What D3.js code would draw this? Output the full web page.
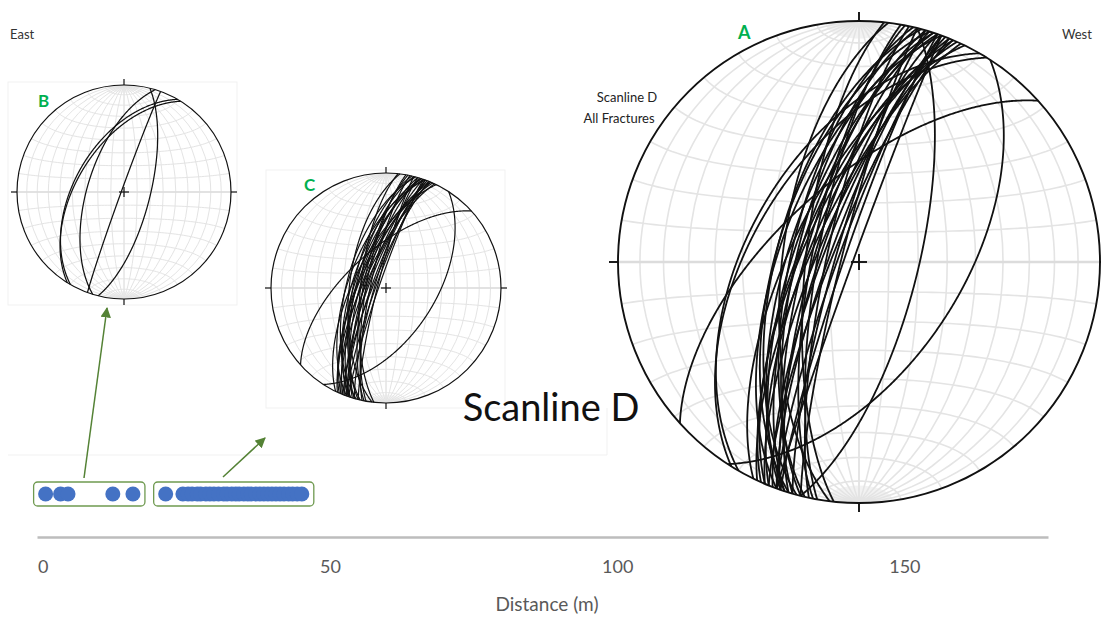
<!DOCTYPE html>
<html><head><meta charset="utf-8">
<script src="https://cdn.jsdelivr.net/npm/d3@7"></script>
<style>
html,body{margin:0;padding:0;background:#fff;}
text{font-family:Lato,"Open Sans",sans-serif;}
</style></head>
<body><svg id="c" width="1101" height="617"></svg>
<script>
// ---- data ----
// Scanline D, group B (east end): positions along scanline (m), dip direction, dip
const posB    = [0.5, 3.1, 4.4, 12.2, 15.7];
const dipDirB = [104, 290, 287, 300, 302];
const dipB    = [70, 88, 62, 52, 54];
// group C
const posC    = [21.4, 24.4, 25.3, 26.0, 26.9, 27.5, 28.4, 29.1, 29.8, 30.6, 31.5, 32.1, 32.9, 33.6, 34.2,
                 35.0, 35.7, 36.3, 37.1, 37.8, 38.5, 39.2, 39.9, 40.6, 41.3, 42.0, 42.8, 43.5, 44.3, 45.1];
const dipDirC = [280, 286, 290, 293, 288, 284, 295, 291, 277, 286, 294, 289, 282, 290, 287,
                 292, 289, 284, 276, 296, 289, 292, 285, 281, 288, 293, 283, 318, 123, 290];
const dipC    = [76, 72, 80, 70, 66, 84, 74, 78, 64, 82, 71, 68, 79, 63, 75,
                 73, 85, 69, 72, 67, 77, 81, 62, 74, 70, 76, 67, 63, 55, 83];
const distTicks = [0, 50, 100, 150];
const axisTitle = "Distance (m)";

const svg = d3.select("#c");
const rad = Math.PI/180;

// faint inset frames
const frame = svg.append("g").attr("fill","none").attr("stroke","#f1f1f1").attr("stroke-width",1);
frame.append("rect").attr("x",8).attr("y",82).attr("width",229).attr("height",223);
frame.append("rect").attr("x",266).attr("y",170).attr("width",239).attr("height",238);
frame.append("path").attr("d","M8,455 H607 V408");

function planeToCircle(dd, dip){
  const t = (dd+180)*rad, p = (90-dip)*rad;
  const down = Math.sin(p), east = Math.sin(t)*Math.cos(p), north = Math.cos(t)*Math.cos(p);
  const lon = Math.atan2(east, down)/rad, lat = Math.asin(Math.max(-1,Math.min(1,north)))/rad;
  const poly = d3.geoCircle().center([lon,lat]).radius(90).precision(0.5)();
  return {type:"LineString", coordinates: poly.coordinates[0]};
}

function stereonet(cx, cy, r, dds, dips, opt){
  const g = svg.append("g");
  const proj = d3.geoAzimuthalEqualArea().rotate([0,0]).scale(r/Math.SQRT2)
      .translate([cx,cy]).clipAngle(90).precision(0.2);
  const path = d3.geoPath(proj);
  const grat = d3.geoGraticule().stepMinor([10,10]).stepMajor([90,360])
      .extentMinor([[-180,-90],[180,90]]).extentMajor([[-180,-90],[180,90]]);
  // polar caps (dense convergence of meridians)
  const cap = d3.geoGraticule().stepMinor([2,10]).extentMinor([[-90,-90],[90,-82]]).extentMajor([[0,0],[0,0]]);
  const cap2 = d3.geoGraticule().stepMinor([2,10]).extentMinor([[-90,82],[90,90]]).extentMajor([[0,0],[0,0]]);
  g.append("path").datum({type:"MultiLineString",coordinates:cap.lines().map(l=>l.coordinates).concat(cap2.lines().map(l=>l.coordinates))})
    .attr("d",path).attr("fill","none").attr("stroke","#f2f2f2").attr("stroke-width",opt.gw*0.7);
  g.append("path").datum(grat()).attr("d",path).attr("fill","none")
    .attr("stroke","#e4e4e4").attr("stroke-width",opt.gw);
  // axes of net
  g.append("path").datum({type:"LineString",coordinates:[[-90,0],[0,0],[90,0]]}).attr("d",path)
    .attr("fill","none").attr("stroke","#dcdcdc").attr("stroke-width",opt.gw*1.6);
  g.append("path").datum({type:"LineString",coordinates:[[0,-90],[0,0],[0,90]]}).attr("d",path)
    .attr("fill","none").attr("stroke","#e4e4e4").attr("stroke-width",opt.gw);
  // great circles
  g.selectAll("path.gc").data(dds.map((d,i)=>planeToCircle(d,dips[i]))).join("path")
    .attr("class","gc").attr("d",path).attr("fill","none")
    .attr("stroke","#111").attr("stroke-width",opt.lw);
  // primitive
  g.append("circle").attr("cx",cx).attr("cy",cy).attr("r",r).attr("fill","none")
    .attr("stroke","#111").attr("stroke-width",opt.pw);
  const tk = opt.tick, cs = opt.cross;
  const ticks = [[cx,cy-r,cx,cy-r-tk],[cx,cy+r,cx,cy+r+tk],[cx-r,cy,cx-r-tk,cy],[cx+r,cy,cx+r+tk,cy],
                 [cx-cs,cy,cx+cs,cy],[cx,cy-cs,cx,cy+cs]];
  g.selectAll("line.tk").data(ticks).join("line").attr("class","tk")
    .attr("x1",d=>d[0]).attr("y1",d=>d[1]).attr("x2",d=>d[2]).attr("y2",d=>d[3])
    .attr("stroke","#111").attr("stroke-width",opt.pw);
}

stereonet(124, 192, 107, dipDirB, dipB, {gw:1, lw:1.25, pw:1.2, tick:6, cross:5});
stereonet(386, 288, 115, dipDirC, dipC, {gw:1, lw:1.2, pw:1.2, tick:6, cross:5});
stereonet(859, 262, 241, dipDirB.concat(dipDirC), dipB.concat(dipC), {gw:1.6, lw:1.8, pw:1.9, tick:9, cross:8});

// labels
const green = "#00b050";
svg.append("text").attr("x",738).attr("y",39).text("A").attr("fill",green).attr("font-weight","bold").attr("font-size",18);
svg.append("text").attr("x",38).attr("y",107).text("B").attr("fill",green).attr("font-weight","bold").attr("font-size",17);
svg.append("text").attr("x",304).attr("y",191).text("C").attr("fill",green).attr("font-weight","bold").attr("font-size",17);
svg.append("text").attr("x",10).attr("y",39).text("East").attr("fill","#333").attr("font-size",13);
svg.append("text").attr("x",1062).attr("y",39).text("West").attr("fill","#333").attr("font-size",13);
svg.append("text").attr("x",627).attr("y",102).attr("text-anchor","middle").text("Scanline D").attr("fill","#222").attr("font-size",13);
svg.append("text").attr("x",619).attr("y",123).attr("text-anchor","middle").text("All Fractures").attr("fill","#222").attr("font-size",13);
svg.append("text").attr("x",551).attr("y",421).attr("text-anchor","middle").text("Scanline D").attr("fill","#111").attr("font-size",38);

// distance axis
const x = d3.scaleLinear().domain([-1,175]).range([37,1048]);
const ax = svg.append("g").attr("transform","translate(0,537)")
  .call(d3.axisBottom(x).tickValues(distTicks).tickSize(0).tickPadding(0));
ax.select(".domain").attr("stroke","#bdbdbd").attr("stroke-width",2.5);
ax.selectAll("text").attr("y",36).attr("dy",null).attr("font-size",18).attr("fill","#595959")
  .attr("font-family","'Liberation Sans Narrow',Lato,sans-serif");
svg.append("text").attr("x",547).attr("y",611).attr("text-anchor","middle").text(axisTitle)
  .attr("font-size",19).attr("fill","#595959").attr("font-family","'Liberation Sans Narrow',Lato,sans-serif");

// scanline groups
const dotY = 494;
[posB,posC].forEach(pos=>{
  const x0 = x(d3.min(pos))-12, x1 = x(d3.max(pos))+12;
  svg.append("rect").attr("x",x0).attr("y",dotY-12).attr("width",x1-x0).attr("height",24).attr("rx",4)
    .attr("fill","#fff").attr("stroke","#6f9a50").attr("stroke-width",1.3);
  svg.selectAll(null).data(pos).join("circle").attr("cx",d=>x(d)).attr("cy",dotY).attr("r",7.5)
    .attr("fill","#4472c4");
});

// arrows
const defs = svg.append("defs");
defs.append("marker").attr("id","ah").attr("viewBox","0 0 10 10").attr("refX",9).attr("refY",5)
  .attr("markerWidth",7).attr("markerHeight",7).attr("orient","auto")
  .append("path").attr("d","M0,0 L10,5 L0,10 z").attr("fill","#548235");
svg.append("line").attr("x1",84).attr("y1",478).attr("x2",107).attr("y2",308)
  .attr("stroke","#548235").attr("stroke-width",1.5).attr("marker-end","url(#ah)");
svg.append("line").attr("x1",223).attr("y1",477).attr("x2",265).attr("y2",438)
  .attr("stroke","#548235").attr("stroke-width",1.5).attr("marker-end","url(#ah)");
</script></body></html>
